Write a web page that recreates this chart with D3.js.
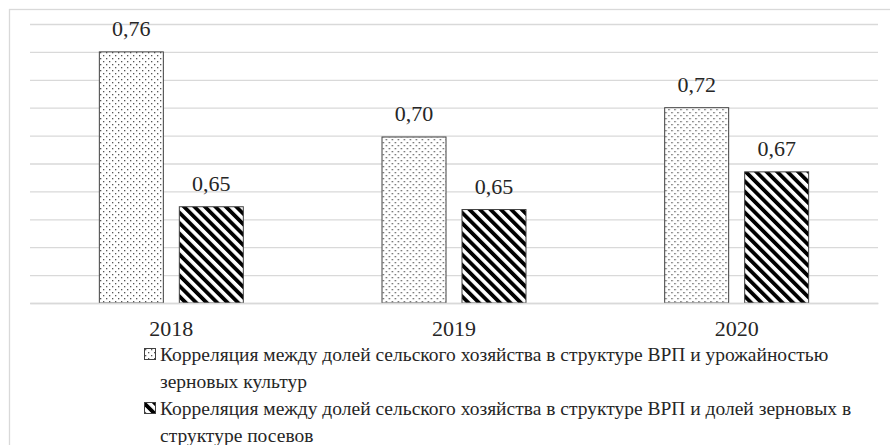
<!DOCTYPE html>
<html>
<head>
<meta charset="utf-8">
<script src="https://cdn.jsdelivr.net/npm/d3@7"></script>
<style>
  body { margin: 0; background: #fff; }
  svg text { font-family: "Liberation Serif", "Times New Roman", serif; fill: #262626; }
</style>
</head>
<body>
<div class="chart"></div>
<script>
// data
const years = ["2018", "2019", "2020"];
const seriesNames = [
  "Корреляция между долей сельского хозяйства в структуре ВРП и урожайностью зерновых культур",
  "Корреляция между долей сельского хозяйства в структуре ВРП и долей зерновых в структуре посевов"
];
const yieldCorr = [0.760, 0.699, 0.720];
const sownCorr = [0.649, 0.647, 0.674];
const yTicks = [0.58, 0.60, 0.62, 0.64, 0.66, 0.68, 0.70, 0.72, 0.74, 0.76, 0.78];

const FONT = '"Liberation Serif", "Times New Roman", serif';
const W = 890, H = 445;
const margin = ({top: 24, right: 12, bottom: 142, left: 30}),
width = W - margin.left - margin.right,
height = H - margin.top - margin.bottom;

const svg = d3.select(".chart").append("svg")
    .attr("width", W)
    .attr("height", H);

// patterns
const defs = svg.append("defs");
const dots = defs.append("pattern")
    .attr("id", "dots")
    .attr("patternUnits", "userSpaceOnUse")
    .attr("width", 6).attr("height", 6);
dots.append("rect").attr("width", 6).attr("height", 6).attr("fill", "#fff");
dots.append("rect").attr("x", 1).attr("y", 1).attr("width", 1.3).attr("height", 1.3).attr("fill", "#555");
dots.append("rect").attr("x", 4).attr("y", 4).attr("width", 1.3).attr("height", 1.3).attr("fill", "#555");

const hatch = defs.append("pattern")
    .attr("id", "hatch")
    .attr("patternUnits", "userSpaceOnUse")
    .attr("width", 7.4).attr("height", 7.4)
    .attr("patternTransform", "rotate(-45)");
hatch.append("rect").attr("width", 7.4).attr("height", 7.4).attr("fill", "#fff");
hatch.append("rect").attr("width", 3.8).attr("height", 7.4).attr("fill", "#000");

const fills = ["url(#dots)", "url(#hatch)"];

// chart frame
svg.append("rect")
    .attr("x", 9.5).attr("y", 9.5)
    .attr("width", 900).attr("height", 460)
    .attr("fill", "none")
    .attr("stroke", "#d9d9d9")
    .attr("stroke-width", 1.3);

const g = svg.append("g")
    .attr("transform", "translate(" + margin.left + "," + margin.top + ")");

const x0 = d3.scaleBand().domain(years).range([0, width]).padding(0);
const x1 = d3.scaleBand().domain([0, 1]).range([0, x0.bandwidth()])
    .paddingInner(0.2).paddingOuter(0.867);
const y = d3.scaleLinear().domain([0.58, 0.78]).range([height, 0]);

// gridlines
g.append("g")
    .attr("class", "grid")
    .call(d3.axisLeft(y).tickValues(yTicks).tickSize(-width).tickFormat(""))
    .call(a => a.select(".domain").remove())
    .call(a => a.selectAll("line").attr("stroke", "#d9d9d9").attr("stroke-width", 1.3));

const rows = years.map((yr, i) => ({year: yr, vals: [yieldCorr[i], sownCorr[i]]}));

const groups = g.selectAll(".yr")
    .data(rows)
    .enter().append("g")
    .attr("class", "yr")
    .attr("transform", d => "translate(" + x0(d.year) + ",0)");

groups.selectAll("rect")
    .data(d => d.vals.map((v, k) => ({k: k, v: v})))
    .enter().append("rect")
    .attr("x", d => x1(d.k))
    .attr("width", x1.bandwidth())
    .attr("y", d => y(d.v))
    .attr("height", d => height - y(d.v))
    .attr("fill", d => fills[d.k])
    .attr("stroke", "#404040")
    .attr("stroke-width", 1);

groups.selectAll("text.lbl")
    .data(d => d.vals.map((v, k) => ({k: k, v: v})))
    .enter().append("text")
    .attr("class", "lbl")
    .attr("text-anchor", "middle")
    .attr("x", d => x1(d.k) + x1.bandwidth() / 2)
    .attr("y", d => y(d.v) - 16)
    .attr("font-family", FONT)
    .attr("font-size", 22)
    .text(d => d3.format(".2f")(d.v).replace(".", ","));

// x axis
const xaxis = g.append("g")
    .attr("transform", "translate(0," + height + ")")
    .call(d3.axisBottom(x0).tickSize(0).tickPadding(0));
xaxis.attr("font-family", FONT);
xaxis.select(".domain").attr("stroke", "#d9d9d9").attr("stroke-width", 1.3);
xaxis.selectAll("text")
    .attr("dy", 0)
    .attr("y", 33)
    .attr("font-size", 22)
    .attr("fill", "#262626");

// legend with wrapped text
function wrap(textSel, maxW, lineH) {
  textSel.each(function() {
    const t = d3.select(this);
    const words = t.text().split(/\s+/);
    const x = t.attr("x");
    t.text(null);
    let line = [], tspan = t.append("tspan").attr("x", x).attr("dy", 0);
    words.forEach(w => {
      line.push(w);
      tspan.text(line.join(" "));
      if (tspan.node().getComputedTextLength() > maxW && line.length > 1) {
        line.pop();
        tspan.text(line.join(" "));
        line = [w];
        tspan = t.append("tspan").attr("x", x).attr("dy", lineH).text(w);
      }
    });
  });
}

const legend = svg.append("g").attr("class", "legend");
const legTop = [361, 415];
seriesNames.forEach((name, k) => {
  legend.append("rect")
      .attr("x", 144.5).attr("y", legTop[k] - 12.5)
      .attr("width", 11).attr("height", 11)
      .attr("fill", fills[k])
      .attr("stroke", "#404040")
      .attr("stroke-width", 1);
  legend.append("text")
      .attr("x", 160)
      .attr("y", legTop[k])
      .attr("font-family", FONT)
      .attr("font-size", 19.5)
      .text(name)
      .call(wrap, 712, 27);
});
</script>
</body>
</html>
